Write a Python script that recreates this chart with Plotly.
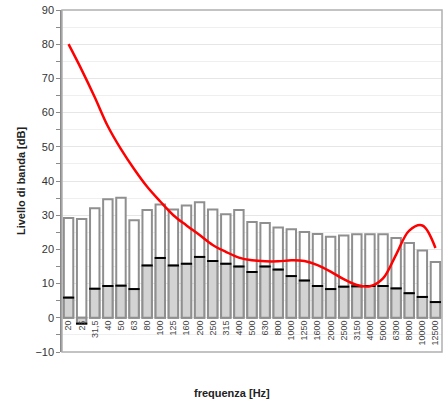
import plotly.graph_objects as go

freq_labels = ["20", "25", "31,5", "40", "50", "63", "80", "100", "125", "160", "200",
               "250", "315", "400", "500", "630", "800", "1000", "1250", "1600", "2000",
               "2500", "3150", "4000", "5000", "6300", "8000", "10000", "12500"]

total_level = [29.2, 28.9, 32.0, 34.7, 35.1, 28.5, 31.5, 33.1, 31.7, 32.8, 33.8,
               31.7, 30.3, 31.5, 28.0, 27.7, 26.4, 25.9, 25.1, 24.5, 23.7,
               24.1, 24.4, 24.4, 24.4, 23.3, 21.9, 19.7, 16.3]

band_level = [5.9, -1.7, 8.5, 9.3, 9.4, 8.4, 15.3, 17.5, 15.3, 15.8, 17.8,
              16.6, 15.8, 15.0, 13.4, 15.0, 14.1, 12.2, 10.9, 9.3, 8.4,
              9.1, 9.2, 9.3, 9.3, 8.6, 7.2, 6.1, 4.6]

curve_level = [80.0, 72.5, 64.5, 56.0, 49.3, 43.5, 38.3, 34.0, 30.0, 27.0, 24.2,
               21.3, 19.3, 17.6, 16.8, 16.5, 16.5, 16.8, 16.6, 15.4, 13.5,
               11.3, 9.6, 9.2, 11.5, 18.5, 25.5, 27.0, 20.4]

FONT = "Liberation Sans, Arial, sans-serif"
BORDER = "#8f8f8f"

fig = go.Figure()

fig.add_trace(go.Bar(
    x=freq_labels, y=total_level, width=0.72,
    marker=dict(color="white", line=dict(color=BORDER, width=2)),
    hoverinfo="skip", showlegend=False))

fig.add_trace(go.Bar(
    x=freq_labels, y=band_level, width=0.72,
    marker=dict(color="#d3d3d3", line=dict(color=BORDER, width=2)),
    hoverinfo="skip", showlegend=False))

fig.add_trace(go.Scatter(
    x=freq_labels, y=band_level, mode="markers",
    marker=dict(symbol="line-ew", size=8, line=dict(color="black", width=2)),
    hoverinfo="skip", showlegend=False))

fig.add_trace(go.Scatter(
    x=freq_labels, y=curve_level, mode="lines",
    line=dict(color="#ff0000", width=2.5, shape="spline", smoothing=1.0),
    hoverinfo="skip", showlegend=False))

fig.update_layout(
    width=443, height=406,
    margin=dict(l=62, r=1, t=10, b=54, autoexpand=False),
    paper_bgcolor="white", plot_bgcolor="white",
    barmode="overlay",
    font=dict(family=FONT, size=11, color="#333333"),
    showlegend=False,
    xaxis=dict(
        type="category", range=[-0.5, len(freq_labels) - 0.5],
        anchor="free", position=0.1, automargin=False,
        showgrid=False, showline=False, zeroline=False,
        tickangle=-90, tickfont=dict(size=9, color="#444444"),
        ticks="", ticklen=0,
    ),
    yaxis=dict(
        range=[-10, 90], dtick=10, tick0=0, automargin=False,
        showgrid=True, gridcolor="#e6e6e6", gridwidth=1,
        zeroline=False,
        showline=True, linecolor="#8a8a8a", linewidth=1.5,
        ticks="outside", ticklen=4, tickcolor="#8a8a8a",
        minor=dict(dtick=5, showgrid=True, gridcolor="#efefef",
                   ticks="outside", ticklen=4, tickcolor="#8a8a8a"),
        tickfont=dict(size=11, color="#333333"),
        title=dict(text="<b>Livello di banda [dB]</b>",
                   font=dict(size=11, color="#222222"), standoff=8),
    ),
    shapes=[dict(type="rect", xref="paper", yref="paper", x0=0, x1=1, y0=0, y1=1,
                 line=dict(color="#b0b0b0", width=1.5), layer="above")],
    annotations=[dict(text="<b>frequenza [Hz]</b>", xref="paper", yref="paper",
                      x=0.447, y=-0.12, xanchor="center", yanchor="middle",
                      showarrow=False, font=dict(size=11, color="#222222"))],
)

fig.write_html("out.html", config={"displayModeBar": False},
               post_script="document.body.style.margin='0px';")
